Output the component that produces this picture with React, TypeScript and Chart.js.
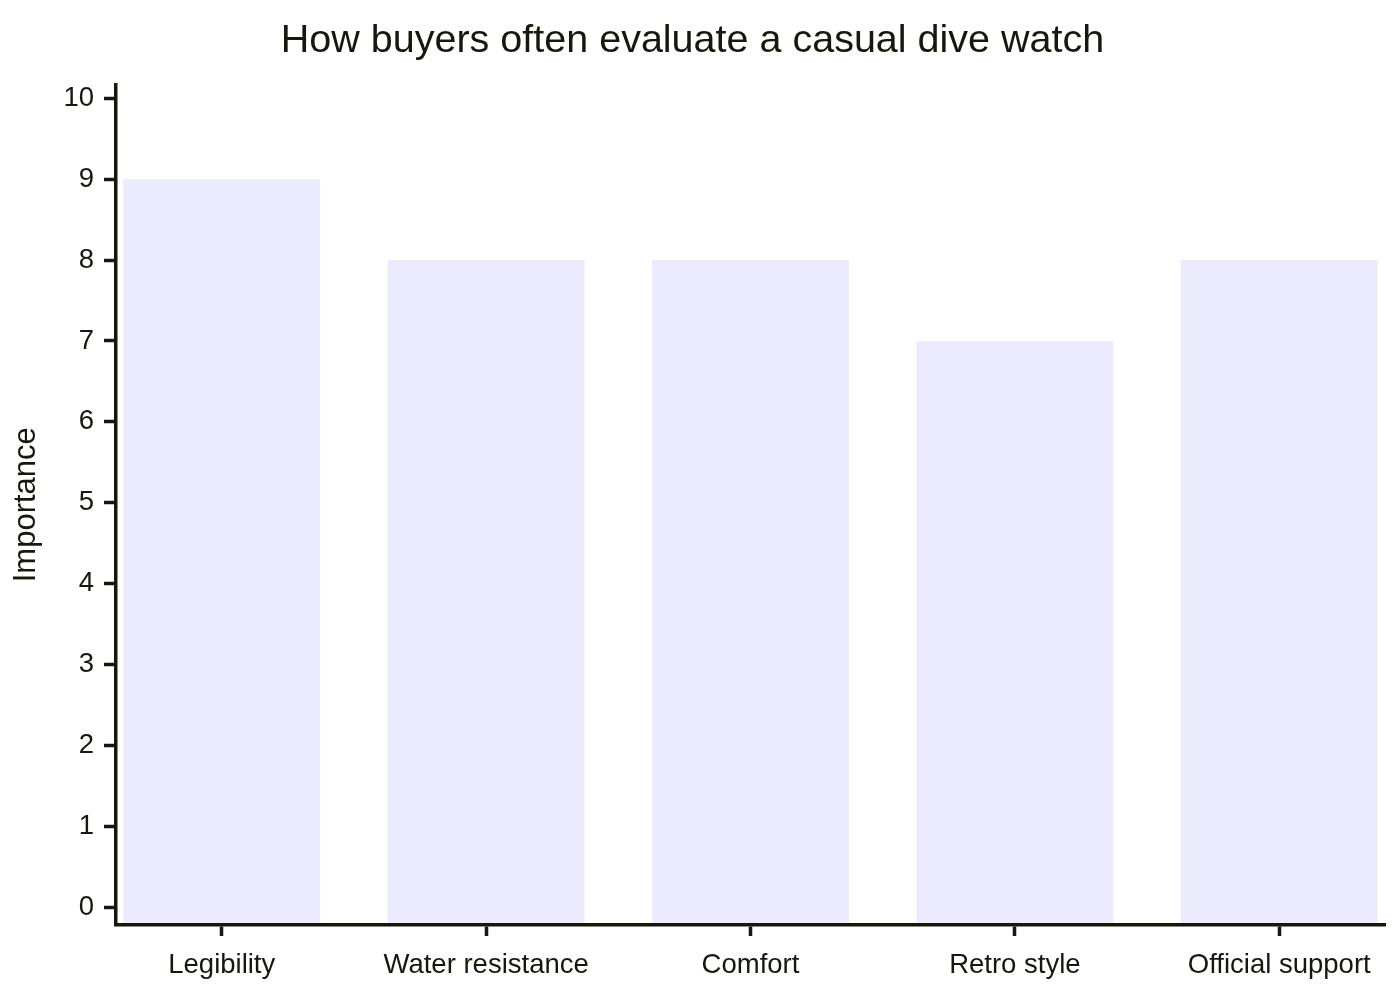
import React, { useEffect, useRef } from "react";
import { Chart, registerables } from "chart.js";

Chart.register(...registerables);

const categories = ["Legibility", "Water resistance", "Comfort", "Retro style", "Official support"];
const importance = [9, 8, 8, 7, 8];
const yTicks = [0, 1, 2, 3, 4, 5, 6, 7, 8, 9, 10];

const TITLE = "How buyers often evaluate a casual dive watch";
const Y_TITLE = "Importance";
const INK = "#17170c";
const BAR = "#ECEBFD";
const FONT = "'Liberation Sans', Arial, sans-serif";

export default function App() {
  const ref = useRef<HTMLCanvasElement | null>(null);

  useEffect(() => {
    if (!ref.current) return;
    const yMin = -0.222;
    const chart = new Chart(ref.current, {
      type: "bar",
      data: {
        datasets: [
          {
            data: importance.map((v, i) => ({ x: i, y: v })),
            backgroundColor: BAR,
            borderWidth: 0,
            base: yMin,
            categoryPercentage: 1,
            barPercentage: 0.745,
          } as any,
        ],
      },
      options: {
        animation: false,
        responsive: false,
        devicePixelRatio: 1,
        layout: { padding: { right: 15, left: 0, top: 0, bottom: 0 } },
        plugins: {
          legend: { display: false },
          tooltip: { enabled: false },
          title: {
            display: true,
            text: TITLE,
            color: INK,
            font: { family: FONT, size: 39.5, weight: "normal" as any, lineHeight: 1.2 },
            padding: { top: 17, bottom: 20 },
          },
        },
        scales: {
          x: {
            type: "linear",
            min: -0.4,
            max: 4.4,
            offset: false,
            afterFit: (s: any) => {
              s.height = 75;
            },
            afterBuildTicks: (s: any) => {
              s.ticks = categories.map((_, i) => ({ value: i }));
            },
            ticks: {
              color: INK,
              font: { family: FONT, size: 27.5 },
              padding: 13,
              maxRotation: 0,
              autoSkip: false,
              callback: (v: any) => categories[v as number] ?? "",
            },
            grid: {
              display: true,
              offset: false,
              drawOnChartArea: false,
              drawTicks: true,
              tickLength: 11,
              tickWidth: 3.5,
              tickColor: INK,
            },
            border: { display: true, color: INK, width: 3.5, z: 1 },
          },
          y: {
            type: "linear",
            min: yMin,
            max: 10.173,
            afterFit: (s: any) => {
              s.width = 116;
            },
            afterBuildTicks: (s: any) => {
              s.ticks = yTicks.map((v) => ({ value: v }));
            },
            ticks: {
              color: INK,
              font: { family: FONT, size: 27.5 },
              padding: 10,
            },
            grid: {
              display: true,
              drawOnChartArea: false,
              drawTicks: true,
              tickLength: 12,
              tickWidth: 3.5,
              tickColor: INK,
            },
            border: { display: true, color: INK, width: 3.5, z: 1 },
            title: {
              display: true,
              text: Y_TITLE,
              color: INK,
              font: { family: FONT, size: 31, lineHeight: 1.2 },
              padding: { top: 7.5, bottom: 0 },
            },
          },
        },
      } as any,
    });
    return () => chart.destroy();
  }, []);

  return (
    <div style={{ position: "absolute", left: 0, top: 0, width: 1400, height: 1000, background: "#fff" }}>
      <canvas ref={ref} width={1400} height={1000} style={{ display: "block", width: 1400, height: 1000 }} />
    </div>
  );
}
